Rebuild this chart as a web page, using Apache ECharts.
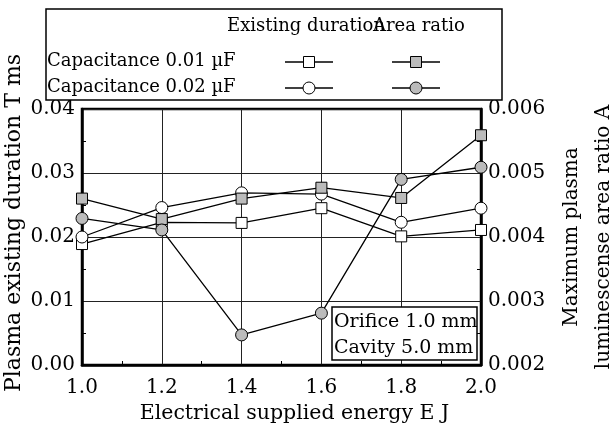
<!DOCTYPE html>
<html><head><meta charset="utf-8">
<script src="https://cdn.jsdelivr.net/npm/echarts@6/dist/echarts.min.js"></script>
<style>html,body{margin:0;padding:0;background:#fff}#c{width:611px;height:423px}</style>
</head><body><div id="c"></div>
<script>
// ---- data ----
const energy = [1.0, 1.2, 1.4, 1.6, 1.8, 2.0];
const durationC001 = [0.0189, 0.0223, 0.0222, 0.0245, 0.0201, 0.0211];
const durationC002 = [0.0200, 0.0246, 0.0269, 0.0267, 0.0223, 0.0245];
const areaC001 = [0.00460, 0.00428, 0.00460, 0.00477, 0.00461, 0.00559];
const areaC002 = [0.00429, 0.00411, 0.00247, 0.00281, 0.00490, 0.00509];
const legendRows = ['Capacitance 0.01 \u00b5F', 'Capacitance 0.02 \u00b5F'];
const legendCols = ['Existing duration', 'Area ratio'];
const noteLines = ['Orifice 1.0 mm', 'Cavity 5.0 mm'];

const FONT = 'DejaVu Serif';
const GRAY = '#bbbbbb';
const pts = v => energy.map((x, i) => [x, v[i]]);

function mkSeries(name, vals, yIdx, symbol, fill, size, z) {
  return {
    name, type: 'line', data: pts(vals), yAxisIndex: yIdx,
    symbol, symbolSize: size, showSymbol: true, z,
    lineStyle: { color: '#000', width: 1.3 },
    itemStyle: { color: fill, borderColor: '#000', borderWidth: 1 },
    emphasis: { disabled: true }, animation: false
  };
}

const chart = echarts.init(document.getElementById('c'), null, { renderer: 'canvas' });
const axisText = { fontFamily: FONT, fontSize: 20, color: '#000' };

chart.setOption({
  backgroundColor: '#fff',
  animation: false,
  grid: { left: 82, right: 130, top: 109, bottom: 58, show: true, borderColor: '#000', borderWidth: 2.5, containLabel: false, outerBoundsMode: 'none' },
  xAxis: {
    type: 'value', min: 1.0, max: 2.0, interval: 0.2,
    name: 'Electrical supplied energy E J', nameLocation: 'middle', nameGap: 31,
    nameTextStyle: Object.assign({}, axisText, { fontSize: 20.5, padding: [0, 0, 0, 26] }),
    axisLine: { show: true, lineStyle: { color: '#000', width: 2.5 } },
    axisTick: { show: false },
    minorTick: { show: true, splitNumber: 2, length: -4, lineStyle: { color: '#000', width: 1 } },
    axisLabel: Object.assign({ margin: 13, formatter: v => v.toFixed(1) }, axisText),
    splitLine: { show: true, lineStyle: { color: '#222', width: 1 } }
  },
  yAxis: [
    {
      type: 'value', min: 0, max: 0.04, interval: 0.01,
      name: 'Plasma existing duration T ms', nameLocation: 'middle', nameGap: 57, nameRotate: 90,
      nameMoveOverlap: false,
      nameTextStyle: Object.assign({}, axisText, { fontSize: 22, padding: [0, 0, 0, 28] }),
      axisLine: { show: true, lineStyle: { color: '#000', width: 2.5 } },
      axisTick: { show: false },
      minorTick: { show: true, splitNumber: 2, length: -4, lineStyle: { color: '#000', width: 1 } },
      axisLabel: Object.assign({ margin: 7, formatter: v => v.toFixed(2) }, axisText),
      splitLine: { show: true, lineStyle: { color: '#222', width: 1 } }
    },
    {
      type: 'value', min: 0.002, max: 0.006, interval: 0.001, position: 'right',
      name: 'Maximum plasma\nluminescense area ratio A', nameLocation: 'middle', nameGap: 74, nameRotate: 90,
      nameTextStyle: Object.assign({ lineHeight: 32 }, axisText),
      axisLine: { show: true, lineStyle: { color: '#000', width: 2.5 } },
      axisTick: { show: false },
      minorTick: { show: true, splitNumber: 2, length: -4, lineStyle: { color: '#000', width: 1 } },
      axisLabel: Object.assign({ margin: 7, formatter: v => v.toFixed(3) }, axisText),
      splitLine: { show: false }
    }
  ],
  series: [
    mkSeries('dur001', durationC001, 0, 'rect', '#fff', 11, 2),
    mkSeries('dur002', durationC002, 0, 'circle', '#fff', 12, 3),
    mkSeries('area001', areaC001, 1, 'rect', GRAY, 11, 4),
    mkSeries('area002', areaC002, 1, 'circle', GRAY, 12, 5)
  ],
  graphic: [
    // legend box
    { type: 'rect', shape: { x: 46, y: 9, width: 456, height: 91 }, style: { fill: '#fff', stroke: '#000', lineWidth: 1.5 }, z: 10 },
    { type: 'text', x: 227, y: 26, style: { text: legendCols[0], font: '18px "' + FONT + '"', fill: '#000', verticalAlign: 'middle' }, z: 11 },
    { type: 'text', x: 373, y: 26, style: { text: legendCols[1], font: '18px "' + FONT + '"', fill: '#000', verticalAlign: 'middle' }, z: 11 },
    { type: 'text', x: 47, y: 61, style: { text: legendRows[0], font: '18px "' + FONT + '"', fill: '#000', verticalAlign: 'middle' }, z: 11 },
    { type: 'text', x: 47, y: 87, style: { text: legendRows[1], font: '18px "' + FONT + '"', fill: '#000', verticalAlign: 'middle' }, z: 11 },
    { type: 'line', shape: { x1: 285, y1: 62, x2: 333, y2: 62 }, style: { stroke: '#000', lineWidth: 1.3 }, z: 11 },
    { type: 'line', shape: { x1: 392, y1: 62, x2: 440, y2: 62 }, style: { stroke: '#000', lineWidth: 1.3 }, z: 11 },
    { type: 'line', shape: { x1: 285, y1: 88, x2: 333, y2: 88 }, style: { stroke: '#000', lineWidth: 1.3 }, z: 11 },
    { type: 'line', shape: { x1: 392, y1: 88, x2: 440, y2: 88 }, style: { stroke: '#000', lineWidth: 1.3 }, z: 11 },
    { type: 'rect', shape: { x: 303.5, y: 56.5, width: 11, height: 11 }, style: { fill: '#fff', stroke: '#000', lineWidth: 1 }, z: 12 },
    { type: 'rect', shape: { x: 410.5, y: 56.5, width: 11, height: 11 }, style: { fill: GRAY, stroke: '#000', lineWidth: 1 }, z: 12 },
    { type: 'circle', shape: { cx: 309, cy: 88, r: 6 }, style: { fill: '#fff', stroke: '#000', lineWidth: 1 }, z: 12 },
    { type: 'circle', shape: { cx: 416, cy: 88, r: 6 }, style: { fill: GRAY, stroke: '#000', lineWidth: 1 }, z: 12 },
    // note box
    { type: 'rect', shape: { x: 332, y: 307, width: 145, height: 53 }, style: { fill: '#fff', stroke: '#000', lineWidth: 1.5 }, z: 10 },
    { type: 'text', x: 334, y: 322, style: { text: noteLines[0], font: '19px "' + FONT + '"', fill: '#000', verticalAlign: 'middle' }, z: 11 },
    { type: 'text', x: 334, y: 348, style: { text: noteLines[1], font: '19px "' + FONT + '"', fill: '#000', verticalAlign: 'middle' }, z: 11 }
  ]
});
</script>
</body></html>
